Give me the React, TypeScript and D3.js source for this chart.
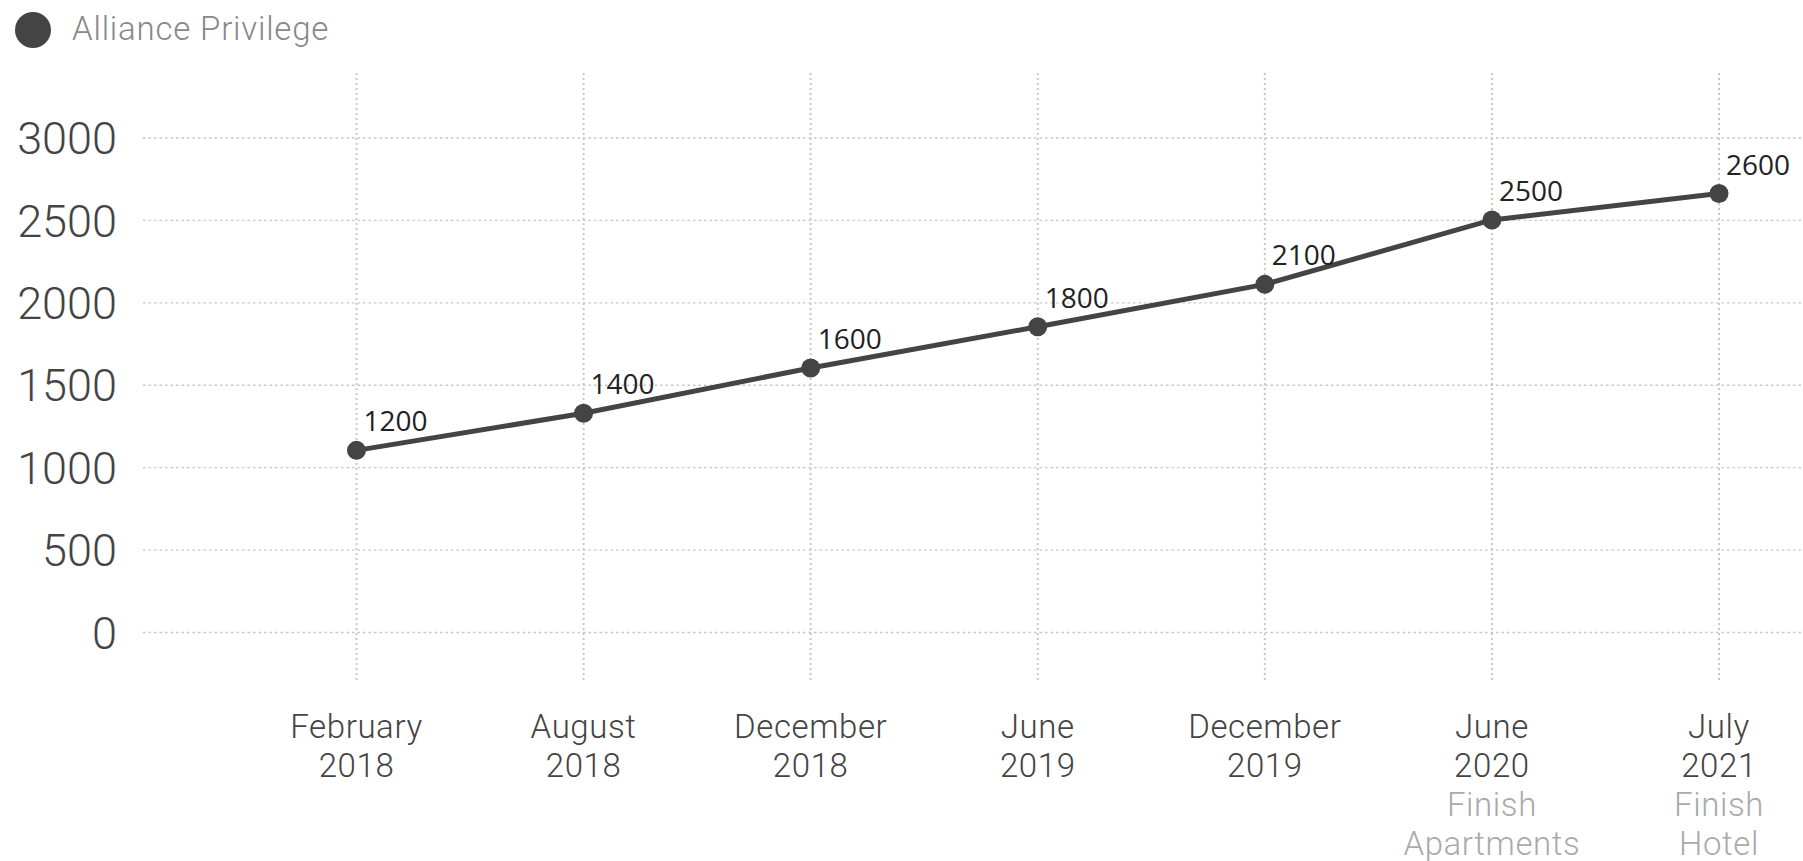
import React, { useEffect, useRef } from 'react';
import * as d3 from 'd3';

const months = ['February', 'August', 'December', 'June', 'December', 'June', 'July'];
const years = ['2018', '2018', '2018', '2019', '2019', '2020', '2021'];
const notes = ['', '', '', '', '', 'Finish\nApartments', 'Finish\nHotel'];
const values = [1105, 1330, 1605, 1855, 2112, 2503, 2663];
const valueLabels = ['1200', '1400', '1600', '1800', '2100', '2500', '2600'];
const yTicks = [0, 500, 1000, 1500, 2000, 2500, 3000];
const seriesName = 'Alliance Privilege';

const W = 1803;
const H = 861;

const App = () => {
  const ref = useRef<SVGSVGElement | null>(null);

  useEffect(() => {
    const svg = d3.select(ref.current);
    svg.selectAll('*').remove();

    const keys = months.map((m, i) => `${m} ${years[i]}`);
    const x = d3.scalePoint<string>().domain(keys).range([356.5, 1719]);
    const y = d3.scaleLinear().domain([0, 3000]).range([632.5, 138]);

    // legend
    svg.append('circle').attr('cx', 33).attr('cy', 30).attr('r', 18).attr('fill', '#444');
    svg
      .append('text')
      .attr('x', 72)
      .attr('y', 40)
      .attr('font-family', 'Roboto')
      .attr('font-weight', 300)
      .attr('font-size', 33)
      .attr('letter-spacing', 0.8)
      .attr('fill', '#888')
      .text(seriesName);

    // horizontal grid
    svg
      .append('g')
      .selectAll('line')
      .data(yTicks)
      .join('line')
      .attr('x1', 143)
      .attr('x2', W)
      .attr('y1', d => y(d))
      .attr('y2', d => y(d))
      .attr('stroke', '#c8c8c8')
      .attr('stroke-width', 1.3)
      .attr('stroke-dasharray', '2.5,3');

    // vertical grid
    svg
      .append('g')
      .selectAll('line')
      .data(keys)
      .join('line')
      .attr('x1', d => x(d)!)
      .attr('x2', d => x(d)!)
      .attr('y1', 73)
      .attr('y2', 683)
      .attr('stroke', '#c8c8c8')
      .attr('stroke-width', 2)
      .attr('stroke-dasharray', '2,3');

    // y tick labels
    svg
      .append('g')
      .selectAll('text')
      .data(yTicks)
      .join('text')
      .attr('x', 117)
      .attr('y', d => y(d))
      .attr('dy', '0.36em')
      .attr('text-anchor', 'end')
      .attr('font-family', 'Roboto')
      .attr('font-weight', 300)
      .attr('font-size', 45)
      .attr('fill', '#444')
      .text(d => d);

    // x labels
    const xl = svg
      .append('g')
      .selectAll('text')
      .data(keys)
      .join('text')
      .attr('text-anchor', 'middle')
      .attr('font-family', 'Roboto')
      .attr('font-weight', 300)
      .attr('font-size', 33)
      .attr('letter-spacing', 0.6);
    xl.each(function (d, i) {
      const t = d3.select(this);
      const cx = x(d)!;
      const lines = [months[i], years[i]];
      lines.forEach((l, j) => {
        t.append('tspan').attr('x', cx).attr('y', 738 + j * 39).attr('fill', '#444').text(l);
      });
      if (notes[i]) {
        notes[i].split('\n').forEach((l, j) => {
          t.append('tspan')
            .attr('x', cx)
            .attr('y', 738 + (j + 2) * 39)
            .attr('fill', '#aaa')
            .text(l);
        });
      }
    });

    // line
    const line = d3
      .line<number>()
      .x((_, i) => x(keys[i])!)
      .y(d => y(d));
    svg
      .append('path')
      .datum(values)
      .attr('d', line)
      .attr('fill', 'none')
      .attr('stroke', '#444')
      .attr('stroke-width', 5);

    svg
      .append('g')
      .selectAll('circle')
      .data(values)
      .join('circle')
      .attr('cx', (_, i) => x(keys[i])!)
      .attr('cy', d => y(d))
      .attr('r', 9.5)
      .attr('fill', '#444');

    // value labels
    svg
      .append('g')
      .selectAll('text')
      .data(values)
      .join('text')
      .attr('x', (_, i) => x(keys[i])! + 7)
      .attr('y', d => y(d) - 19)
      .attr('font-family', 'Open Sans')
      .attr('font-size', 28)
      .attr('fill', '#222')
      .text((_, i) => valueLabels[i]);
  }, []);

  return (
    <svg
      ref={ref}
      width={W}
      height={H}
      style={{ position: 'absolute', left: 0, top: 0, background: '#fff' }}
    />
  );
};

export default App;
